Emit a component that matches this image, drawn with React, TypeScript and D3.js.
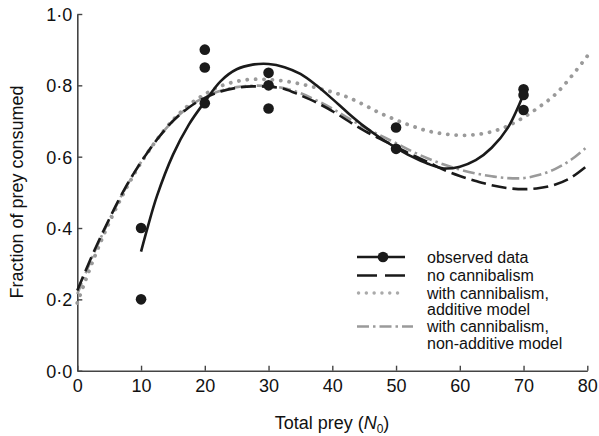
import React, { useEffect, useRef } from "react";
import * as d3 from "d3";

// observed data points
const obsX = [10, 10, 20, 20, 20, 30, 30, 30, 50, 50, 70, 70, 70];
const obsY = [0.4, 0.2, 0.9, 0.85, 0.75, 0.835, 0.8, 0.735, 0.682, 0.622, 0.789, 0.773, 0.731];

// fitted line through observed data
const fitX = [10, 11, 12.5, 15, 17.5, 20, 22.5, 25, 27.5, 30, 32.5, 35, 37.5, 40, 42.5, 45, 47.5, 50, 52.5, 55, 57.5, 60, 62.5, 65, 67.5, 70];
const fitY = [0.334, 0.4, 0.49, 0.605, 0.69, 0.754, 0.812, 0.845, 0.858, 0.86, 0.851, 0.832, 0.8, 0.762, 0.722, 0.685, 0.653, 0.625, 0.6, 0.58, 0.567, 0.572, 0.59, 0.625, 0.68, 0.775];

// model curves
const modelX = [0, 2.5, 5, 7.5, 10, 12.5, 15, 17.5, 20, 22.5, 25, 27.5, 30, 32.5, 35, 37.5, 40, 42.5, 45, 47.5, 50, 52.5, 55, 57.5, 60, 62.5, 65, 67.5, 70, 72.5, 75, 77.5, 80];
const noCannibalism = [0.225, 0.33, 0.425, 0.512, 0.585, 0.648, 0.7, 0.738, 0.765, 0.783, 0.793, 0.797, 0.796, 0.79, 0.772, 0.752, 0.728, 0.7, 0.673, 0.65, 0.628, 0.605, 0.585, 0.563, 0.546, 0.532, 0.52, 0.512, 0.509, 0.512, 0.522, 0.542, 0.575];
const additive = [0.19, 0.31, 0.415, 0.505, 0.583, 0.648, 0.703, 0.745, 0.775, 0.798, 0.811, 0.817, 0.816, 0.812, 0.804, 0.793, 0.781, 0.766, 0.745, 0.722, 0.703, 0.686, 0.672, 0.664, 0.66, 0.662, 0.67, 0.686, 0.71, 0.74, 0.775, 0.825, 0.882];
const nonAdditive = [0.215, 0.325, 0.422, 0.51, 0.585, 0.648, 0.7, 0.74, 0.767, 0.785, 0.795, 0.799, 0.798, 0.792, 0.778, 0.758, 0.735, 0.708, 0.682, 0.66, 0.638, 0.615, 0.595, 0.578, 0.564, 0.553, 0.545, 0.54, 0.54, 0.549, 0.566, 0.592, 0.628];

const xTicks = [0, 10, 20, 30, 40, 50, 60, 70, 80];
const yTicks = [0, 0.2, 0.4, 0.6, 0.8, 1.0];

const legendLabels = [
  ["observed data"],
  ["no cannibalism"],
  ["with cannibalism,", "additive model"],
  ["with cannibalism,", "non-additive model"],
];

const FONT = "'Liberation Sans', Arial, Helvetica, sans-serif";

const Chart = () => {
  const ref = useRef(null);

  useEffect(() => {
    if (!ref.current) return;
    const svg = d3.select(ref.current);
    svg.selectAll("*").remove();

    const x = d3.scaleLinear().domain([0, 80]).range([77.3, 587.3]);
    const y = d3.scaleLinear().domain([0, 1]).range([370.7, 14]);

    // axes, ticks pointing inward
    const xAxis = svg
      .append("g")
      .attr("transform", `translate(0,${y(0)})`)
      .call(
        d3.axisBottom(x).tickValues(xTicks).tickSizeInner(-5).tickSizeOuter(0).tickPadding(9)
      );
    const yAxis = svg
      .append("g")
      .attr("transform", `translate(${x(0)},0)`)
      .call(
        d3
          .axisLeft(y)
          .tickValues(yTicks)
          .tickSizeInner(-5)
          .tickSizeOuter(0)
          .tickPadding(5)
          .tickFormat((d) => d3.format(".1f")(d).replace(".", "\u00b7"))
      );
    [xAxis, yAxis].forEach((g) => {
      g.select(".domain").attr("stroke", "#444").attr("stroke-width", 1.6);
      g.selectAll(".tick line").attr("stroke", "#444").attr("stroke-width", 1.4);
      g.selectAll(".tick text")
        .attr("fill", "#111")
        .style("font-family", FONT)
        .style("font-size", "18px");
    });
    yAxis.selectAll(".tick text").attr("dy", "0.36em");

    const line = d3
      .line()
      .x((d) => x(d[0]))
      .y((d) => y(d[1]))
      .curve(d3.curveCatmullRom.alpha(0.5));

    const series = [
      { vals: additive, stroke: "#9a9a9a", width: 3.8, dash: "0.1 8.3", cap: "round" },
      { vals: nonAdditive, stroke: "#9a9a9a", width: 2.6, dash: "12 4 2.5 4", cap: "butt" },
      { vals: noCannibalism, stroke: "#1a1a1a", width: 2.6, dash: "15 6", cap: "butt" },
    ];
    series.forEach((s) => {
      svg
        .append("path")
        .datum(modelX.map((v, i) => [v, s.vals[i]]))
        .attr("fill", "none")
        .attr("stroke", s.stroke)
        .attr("stroke-width", s.width)
        .attr("stroke-dasharray", s.dash)
        .attr("stroke-linecap", s.cap)
        .attr("d", line);
    });

    svg
      .append("path")
      .datum(fitX.map((v, i) => [v, fitY[i]]))
      .attr("fill", "none")
      .attr("stroke", "#1a1a1a")
      .attr("stroke-width", 2.6)
      .attr("d", line);

    svg
      .selectAll(".dot")
      .data(obsX.map((v, i) => ({ x: v, y: obsY[i] })))
      .enter()
      .append("circle")
      .attr("class", "dot")
      .attr("cx", (d) => x(d.x))
      .attr("cy", (d) => y(d.y))
      .attr("r", 5.3)
      .attr("fill", "#1a1a1a");

    // axis titles
    svg
      .append("text")
      .attr("transform", "translate(23,192) rotate(-90)")
      .attr("text-anchor", "middle")
      .style("font-family", FONT)
      .style("font-size", "18px")
      .attr("fill", "#111")
      .text("Fraction of prey consumed");

    const xt = svg
      .append("text")
      .attr("x", 332)
      .attr("y", 429)
      .attr("text-anchor", "middle")
      .style("font-family", FONT)
      .style("font-size", "18px")
      .attr("fill", "#111");
    xt.append("tspan").text("Total prey (");
    xt.append("tspan").style("font-style", "italic").text("N");
    xt.append("tspan").attr("dy", 4).style("font-size", "12px").text("0");
    xt.append("tspan").attr("dy", -4).text(")");

    // legend
    const lg = svg.append("g");
    const lx0 = 357;
    const lx1 = 405;
    const rowY = [257, 275.5, 293, 326.5];
    lg.append("line").attr("x1", lx0).attr("x2", lx1).attr("y1", rowY[0]).attr("y2", rowY[0])
      .attr("stroke", "#1a1a1a").attr("stroke-width", 2.6);
    lg.append("circle").attr("cx", (lx0 + lx1) / 2 + 2).attr("cy", rowY[0]).attr("r", 5.3).attr("fill", "#1a1a1a");
    lg.append("line").attr("x1", lx0).attr("x2", lx1).attr("y1", rowY[1]).attr("y2", rowY[1])
      .attr("stroke", "#1a1a1a").attr("stroke-width", 2.6).attr("stroke-dasharray", "20 8");
    lg.append("line").attr("x1", lx0 + 1.5).attr("x2", lx1).attr("y1", rowY[2]).attr("y2", rowY[2])
      .attr("stroke", "#aaa").attr("stroke-width", 3.4).attr("stroke-linecap", "round")
      .attr("stroke-dasharray", "0.1 7.7");
    lg.append("line").attr("x1", lx0).attr("x2", lx1 + 8).attr("y1", rowY[3]).attr("y2", rowY[3])
      .attr("stroke", "#9a9a9a").attr("stroke-width", 2.6).attr("stroke-dasharray", "12 4 2.5 4");

    legendLabels.forEach((lines, i) => {
      lines.forEach((t, j) => {
        lg.append("text")
          .attr("x", 427)
          .attr("y", rowY[i] + 5.5 + j * 16.5)
          .style("font-family", FONT)
          .style("font-size", "16px")
          .attr("fill", "#111")
          .text(t);
      });
    });
  }, []);

  return (
    <svg
      ref={ref}
      width={599}
      height={436}
      style={{ position: "absolute", left: 0, top: 0, background: "#fff" }}
    />
  );
};

export default function App() {
  return <Chart />;
}
